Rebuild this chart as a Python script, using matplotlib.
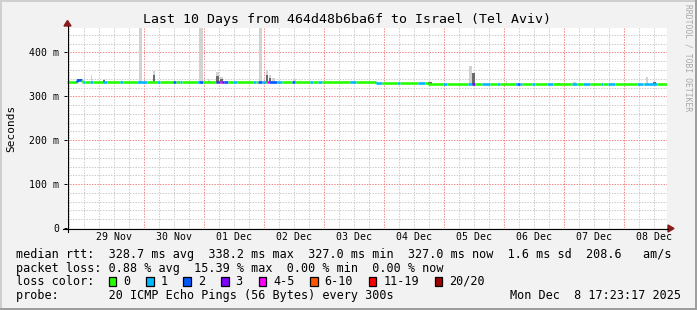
import numpy as np
import matplotlib
matplotlib.use("Agg")
import matplotlib.pyplot as plt
from matplotlib.patches import Rectangle, Polygon
from datetime import datetime, timedelta

# ==============================
# DATA (hours since graph start, rtt in ms)
# ==============================

start_time = datetime(2025, 11, 28, 17, 23, 17)
n_days = 10

# median rtt, stepwise: value holds from med_t[i] to med_t[i+1]
med_t = [0.0, 4.0, 6.0, 123.6, 144.4, 240.0]
med_ms = [331.5, 337.5, 331.5, 329.5, 327.0]

# packet loss episodes (lost pings out of 20)
loss_t0 = [4.0, 6.4, 9.2, 14.4, 21.2, 28.0, 36.0, 42.4, 45.2, 52.0, 52.8,
           59.6, 60.4, 61.2, 62.0, 62.8, 66.4, 74.4, 76.4, 78.0, 80.0, 80.6,
           84.0, 90.0, 97.2, 100.4, 113.2, 123.6, 132.0, 140.4, 150.4, 160.4,
           162.0, 166.0, 172.0, 179.2, 180.0, 181.2, 186.0, 192.0, 202.0,
           206.4, 213.6, 216.4, 228.0, 230.8]
loss_t1 = [6.0, 7.2, 10.4, 16.0, 22.4, 32.0, 37.2, 43.6, 46.0, 52.8, 54.4,
           60.4, 61.2, 62.0, 62.8, 64.4, 68.0, 75.6, 78.0, 79.6, 80.6, 84.0,
           86.0, 91.2, 98.4, 102.0, 115.6, 126.0, 133.2, 143.2, 152.0, 162.0,
           163.2, 169.2, 173.2, 180.0, 181.2, 182.0, 187.2, 194.4, 204.0,
           209.2, 214.4, 219.2, 230.4, 236.0]
loss_n = [2, 1, 1, 1, 1, 1, 1, 2, 1, 1, 2,
          3, 2, 4, 3, 2, 1, 1, 2, 1, 4, 2,
          1, 2, 1, 1, 1, 1, 1, 1, 1, 1,
          3, 1, 1, 1, 2, 1, 1, 1, 1,
          1, 1, 1, 1, 1]

# smoke: spread of the 20 pings above the median
smoke_t0 = [4.0, 9.6, 14.4, 16.4, 21.6, 28.8, 34.4, 39.6, 44.4, 52.8, 56.4,
            59.6, 61.2, 62.8, 67.6, 76.8, 79.6, 80.8, 82.0, 90.4, 97.6, 110.4,
            113.2, 144.4, 160.8, 162.0, 164.4, 175.6, 196.0, 202.4, 231.6, 234.4]
smoke_t1 = [6.0, 10.0, 15.2, 17.6, 22.0, 30.0, 35.2, 40.0, 45.2, 54.4, 57.2,
            60.8, 62.4, 64.4, 68.0, 78.0, 80.4, 81.6, 83.2, 91.6, 98.0, 112.4,
            115.2, 146.0, 162.0, 163.2, 165.2, 176.0, 197.2, 203.6, 232.4, 235.6]
smoke_max = [340, 348, 339, 334, 336, 480, 357, 336, 336, 480, 340,
             355, 345, 335, 336, 480, 359, 348, 341, 340, 336, 336,
             335, 332, 370, 353, 331, 334, 330, 332, 343, 332]
smoke_inner = [339, np.nan, 338, np.nan, 335, np.nan, 348, np.nan, 335, np.nan, np.nan,
               346, 340, np.nan, np.nan, np.nan, 348, 341, np.nan, np.nan, np.nan, np.nan,
               np.nan, 332, np.nan, 353, np.nan, np.nan, 330, np.nan, np.nan, 332]

loss_labels = ["0", "1", "2", "3", "4-5", "6-10", "11-19", "20/20"]
loss_colors = ["#26ff00", "#00b8ff", "#0059ff", "#7e00ff", "#ff00ff",
               "#ff5500", "#ff0000", "#a10000"]

title = "Last 10 Days from 464d48b6ba6f to Israel (Tel Aviv)"
legend_rtt = "median rtt:  328.7 ms avg  338.2 ms max  327.0 ms min  327.0 ms now  1.6 ms sd  208.6   am/s"
legend_loss = "packet loss: 0.88 % avg  15.39 % max  0.00 % min  0.00 % now"
probe_text = "probe:       20 ICMP Echo Pings (56 Bytes) every 300s"
stamp = "Mon Dec  8 17:23:17 2025"


def loss_color(n):
    if n <= 3:
        return loss_colors[n]
    if n <= 5:
        return loss_colors[4]
    if n <= 10:
        return loss_colors[5]
    if n <= 19:
        return loss_colors[6]
    return loss_colors[7]


def median_at(t):
    i = np.searchsorted(med_t, t, side="right") - 1
    return med_ms[min(max(i, 0), len(med_ms) - 1)]


def loss_at(t):
    for a, b, n in zip(loss_t0, loss_t1, loss_n):
        if a <= t < b:
            return n
    return 0


# ==============================
# FIGURE
# ==============================

plt.rcParams['font.family'] = ['DejaVu Sans Mono']
W, H = 697, 310
BG = "#f2f2f2"

fig = plt.figure(figsize=(W / 100, H / 100), dpi=100, facecolor=BG)


def fx(x):
    return x / W


def fy(y):
    return 1 - y / H


ax = fig.add_axes([fx(67), fy(228), 600 / W, 200 / H])
ax.set_facecolor("white")
for s in ax.spines.values():
    s.set_visible(False)

total_h = n_days * 24
ymax = 455.6
ax.set_xlim(0, total_h)
ax.set_ylim(0, ymax)

# grid
first_midnight = (datetime(start_time.year, start_time.month, start_time.day) + timedelta(days=1) - start_time).total_seconds() / 3600
six_h = np.arange(first_midnight - 24, total_h, 6)
six_h = six_h[(six_h > 0) & (six_h < total_h)]
midnights = [t for t in six_h if abs(((t - first_midnight) % 24)) < 1e-6]
minors = [t for t in six_h if t not in midnights]
grid_minor = dict(color="#c8c8c8", lw=0.7, linestyle=(0, (1.4, 1.4)), zorder=0)
grid_major = dict(color="#f08080", lw=0.7, linestyle=(0, (1.4, 1.4)), zorder=0)
ax.vlines(minors, 0, ymax, **grid_minor)
ax.vlines(midnights, 0, ymax, **grid_major)
y_minor = [v for v in range(20, int(ymax), 20) if v % 100 != 0]
y_major = [v for v in range(100, int(ymax), 100)]
ax.hlines(y_minor, 0, total_h, **grid_minor)
ax.hlines(y_major, 0, total_h, **grid_major)

# smoke
for a, b, top, inner in zip(smoke_t0, smoke_t1, smoke_max, smoke_inner):
    base = median_at((a + b) / 2) - 2
    ax.bar(a, top - base, width=b - a, bottom=base, align="edge",
           color="#d2d2d2", lw=0, zorder=1)
    if not np.isnan(inner):
        ax.bar(a, inner - base, width=b - a, bottom=base, align="edge",
               color="#6a6a6a", lw=0, zorder=1.5)

# median line coloured by loss
edges = sorted(set(med_t + loss_t0 + loss_t1))
prev = None
for a, b in zip(edges[:-1], edges[1:]):
    mid = (a + b) / 2
    m = median_at(mid)
    c = loss_color(loss_at(mid))
    ax.plot([a, b], [m, m], color=c, lw=1.9, solid_capstyle="butt", zorder=3)
    if prev is not None and prev != m:
        ax.plot([a, a], [prev, m], color=c, lw=1.9, solid_capstyle="butt", zorder=3)
    prev = m

# ticks
noons = [first_midnight + 12 + 24 * k for k in range(-1, n_days + 1)]
noons = [t for t in noons if 0 < t < total_h]
labels = [(start_time + timedelta(hours=t)).strftime("%d %b") for t in noons]
ax.set_xticks(noons)
ax.set_xticklabels(labels, fontsize=7.1)
ax.tick_params(axis="x", length=0, pad=3.2)
ax.set_yticks([0, 100, 200, 300, 400])
ax.set_yticklabels(["0", "100 m", "200 m", "300 m", "400 m"], fontsize=7.1)
ax.tick_params(axis="y", length=2.5, width=0.7, pad=3)

# axes lines with arrows
arrow_c = "#8b1a1a"
fig.add_artist(plt.Line2D([fx(63), fx(668)], [fy(228.5), fy(228.5)], color="black", lw=0.8))
fig.add_artist(plt.Line2D([fx(67.5), fx(67.5)], [fy(232), fy(26)], color="black", lw=0.8))
fig.add_artist(Polygon([(fx(668), fy(225)), (fx(668), fy(232)), (fx(674), fy(228.5))],
                       closed=True, color=arrow_c, transform=fig.transFigure))
fig.add_artist(Polygon([(fx(64), fy(26)), (fx(71), fy(26)), (fx(67.5), fy(20.5))],
                       closed=True, color=arrow_c, transform=fig.transFigure))

# frame
fig.add_artist(Rectangle((0, fy(2)), 1, 2 / H, transform=fig.transFigure, color="#cfcfcf", lw=0))
fig.add_artist(Rectangle((0, 0), 2 / W, 1, transform=fig.transFigure, color="#cfcfcf", lw=0))
fig.add_artist(Rectangle((0, 0), 1, 2 / H, transform=fig.transFigure, color="#9e9e9e", lw=0))
fig.add_artist(Rectangle((fx(695), 0), 2 / W, 1, transform=fig.transFigure, color="#9e9e9e", lw=0))

# texts
fig.text(fx(347), fy(19), title, ha="center", va="center", fontsize=9.5)
fig.text(fx(11), fy(128), "Seconds", rotation=90, ha="center", va="center", fontsize=8)
fig.text(fx(688), fy(58), "RRDTOOL / TOBI OETIKER", rotation=-90, ha="center",
         va="center", fontsize=5.8, color="#a8a8a8")

cw = 7.1
fig.text(fx(16), fy(254.3), legend_rtt, va="center", fontsize=8.5)
fig.text(fx(16), fy(268.3), legend_loss, va="center", fontsize=8.5)
fig.text(fx(16), fy(281.5), "loss color:", va="center", fontsize=8.5)
x = 108.5
for lab, col in zip(loss_labels, loss_colors):
    fig.add_artist(Rectangle((fx(x), fy(286)), 7.5 / W, 9 / H, transform=fig.transFigure,
                             facecolor=col, edgecolor="black", lw=0.9))
    fig.text(fx(x + 14.4), fy(281.5), lab, va="center", fontsize=8.5)
    x = x + 14.4 + len(lab) * cw + 16
fig.text(fx(16), fy(295.7), probe_text, va="center", fontsize=8.5)
fig.text(fx(681), fy(295.7), stamp, ha="right", va="center", fontsize=8.5)

fig.savefig("out.png", dpi=100, facecolor=BG)
